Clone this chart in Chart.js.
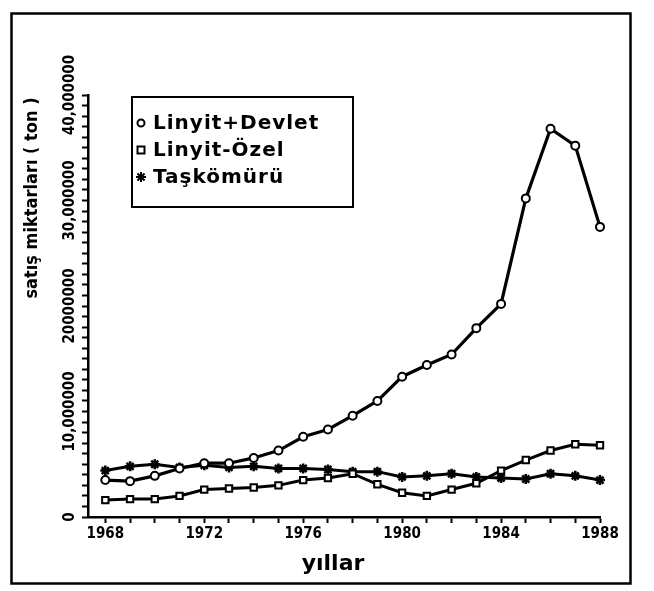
<!DOCTYPE html>
<html><head><meta charset="utf-8">
<script src="https://cdn.jsdelivr.net/npm/chart.js@4/dist/chart.umd.min.js"></script>
<style>html,body{margin:0;padding:0;background:#fff}</style>
</head><body>
<canvas id="c" width="654" height="591"></canvas>
<script>
const years = [1968,1969,1970,1971,1972,1973,1974,1975,1976,1977,1978,1979,1980,1981,1982,1983,1984,1985,1986,1987,1988];
const linyitDevlet = [3500000,3400000,3900000,4600000,5100000,5100000,5600000,6300000,7600000,8300000,9600000,11000000,13300000,14400000,15400000,17900000,20200000,30200000,36800000,35200000,27500000];
const linyitOzel = [1600000,1700000,1700000,2000000,2600000,2700000,2800000,3000000,3500000,3700000,4100000,3100000,2300000,2000000,2600000,3200000,4400000,5400000,6300000,6900000,6800000];
const taskomuru = [4400000,4800000,5000000,4700000,4900000,4700000,4800000,4600000,4600000,4500000,4300000,4300000,3800000,3900000,4100000,3800000,3700000,3600000,4100000,3900000,3500000];
const seriesLabels = ['Linyit+Devlet','Linyit-Özel','Taşkömürü'];
const xTickLabels = ['1968','1972','1976','1980','1984','1988'];
const yTickValues = [0,10000000,20000000,30000000,40000000];
const yTickLabels = ['0','10,000000','20000000','30,000000','40,000000'];
const xTitle = 'yıllar';
const yTitle = 'satış miktarları ( ton )';

const pts = arr => arr.map((v,i)=>({x:years[i], y:v}));
const tickFont = {family:'DejaVu Sans Condensed', weight:'bold', size:15};

const decor = {
  id:'decor',
  afterDraw(chart){
    const ctx = chart.ctx;
    ctx.save();
    ctx.strokeStyle = '#000'; ctx.fillStyle = '#000';
    // frame
    ctx.lineWidth = 2.5;
    ctx.strokeRect(11.5,13.5,619,570);
    // titles
    ctx.font = 'bold 22px "DejaVu Sans"';
    ctx.textAlign = 'center'; ctx.textBaseline = 'middle';
    ctx.fillText(xTitle, 333, 564);
    ctx.save();
    ctx.translate(32, 198);
    ctx.rotate(-Math.PI/2);
    ctx.font = 'bold 18px "DejaVu Sans Condensed"';
    ctx.fillText(yTitle, 0, 0);
    ctx.restore();
    // legend
    ctx.lineWidth = 2;
    ctx.strokeRect(132,97,221,110);
    const rows = [123,150,177];
    ctx.font = 'bold 20px "DejaVu Sans"';
    ctx.textAlign = 'left';
    try { ctx.letterSpacing = '1px'; } catch(e) {}
    rows.forEach((ry,i)=>{
      const mx = 141;
      ctx.lineWidth = 2;
      if (i===0){ ctx.beginPath(); ctx.arc(mx,ry,3.5,0,Math.PI*2); ctx.fillStyle='#fff'; ctx.fill(); ctx.stroke(); }
      else if (i===1){ ctx.fillStyle='#fff'; ctx.fillRect(mx-3.5,ry-3.5,7,7); ctx.strokeRect(mx-3.5,ry-3.5,7,7); }
      else { ctx.beginPath(); for(let k=0;k<4;k++){const a=k*Math.PI/4; ctx.moveTo(mx-5*Math.cos(a),ry-5*Math.sin(a)); ctx.lineTo(mx+5*Math.cos(a),ry+5*Math.sin(a));} ctx.stroke(); }
      ctx.fillStyle = '#000';
      ctx.fillText(seriesLabels[i], 153, ry+1);
    });
    ctx.restore();
  }
};

new Chart(document.getElementById('c'), {
  type:'line',
  data:{
    datasets:[
      {label:seriesLabels[0], data:pts(linyitDevlet), borderColor:'#000', borderWidth:3.2, pointStyle:'circle', pointRadius:4, pointBorderWidth:2, pointBackgroundColor:'#fff', pointBorderColor:'#000', tension:0, clip:false},
      {label:seriesLabels[1], data:pts(linyitOzel), borderColor:'#000', borderWidth:3, pointStyle:'rect', pointRadius:4.5, pointBorderWidth:2, pointBackgroundColor:'#fff', pointBorderColor:'#000', tension:0, clip:false},
      {label:seriesLabels[2], data:pts(taskomuru), borderColor:'#000', borderWidth:3, pointStyle:'star', pointRadius:5, pointBorderWidth:2.5, pointBackgroundColor:'#000', pointBorderColor:'#000', tension:0, clip:false}
    ]
  },
  options:{
    responsive:false, animation:false,
    layout:{padding:{left:0,right:54,top:95,bottom:44}},
    plugins:{legend:{display:false}, tooltip:{enabled:false}},
    scales:{
      x:{type:'linear', min:1967.3, max:1988,
        afterFit(s){ s.height = 30; },
        border:{display:true, color:'#000', width:2.5},
        grid:{display:true, drawOnChartArea:false, drawTicks:true, tickLength:6, tickWidth:2, tickColor:'#000'},
        ticks:{stepSize:1, includeBounds:false, autoSkip:false, maxRotation:0, minRotation:0, color:'#000', font:tickFont, padding:2,
          callback:(v)=>{ const r=Math.round(v); return (Math.abs(v-r)<1e-6 && xTickLabels.includes(String(r))) ? String(r) : ''; }}
      },
      y:{type:'linear', min:0, max:40000000,
        afterFit(s){ s.width = 88; },
        border:{display:true, color:'#000', width:2.5},
        grid:{display:true, drawOnChartArea:false, drawTicks:true, tickLength:6, tickWidth:2, tickColor:'#000'},
        ticks:{stepSize:1000000, maxTicksLimit:1000, autoSkip:false, minRotation:90, maxRotation:90, crossAlign:'center', padding:-28, color:'#000', font:tickFont,
          callback:(v)=>{ const i=yTickValues.indexOf(v); return i>=0 ? yTickLabels[i] : ''; }}
      }
    }
  },
  plugins:[decor]
});
</script>
</body></html>
